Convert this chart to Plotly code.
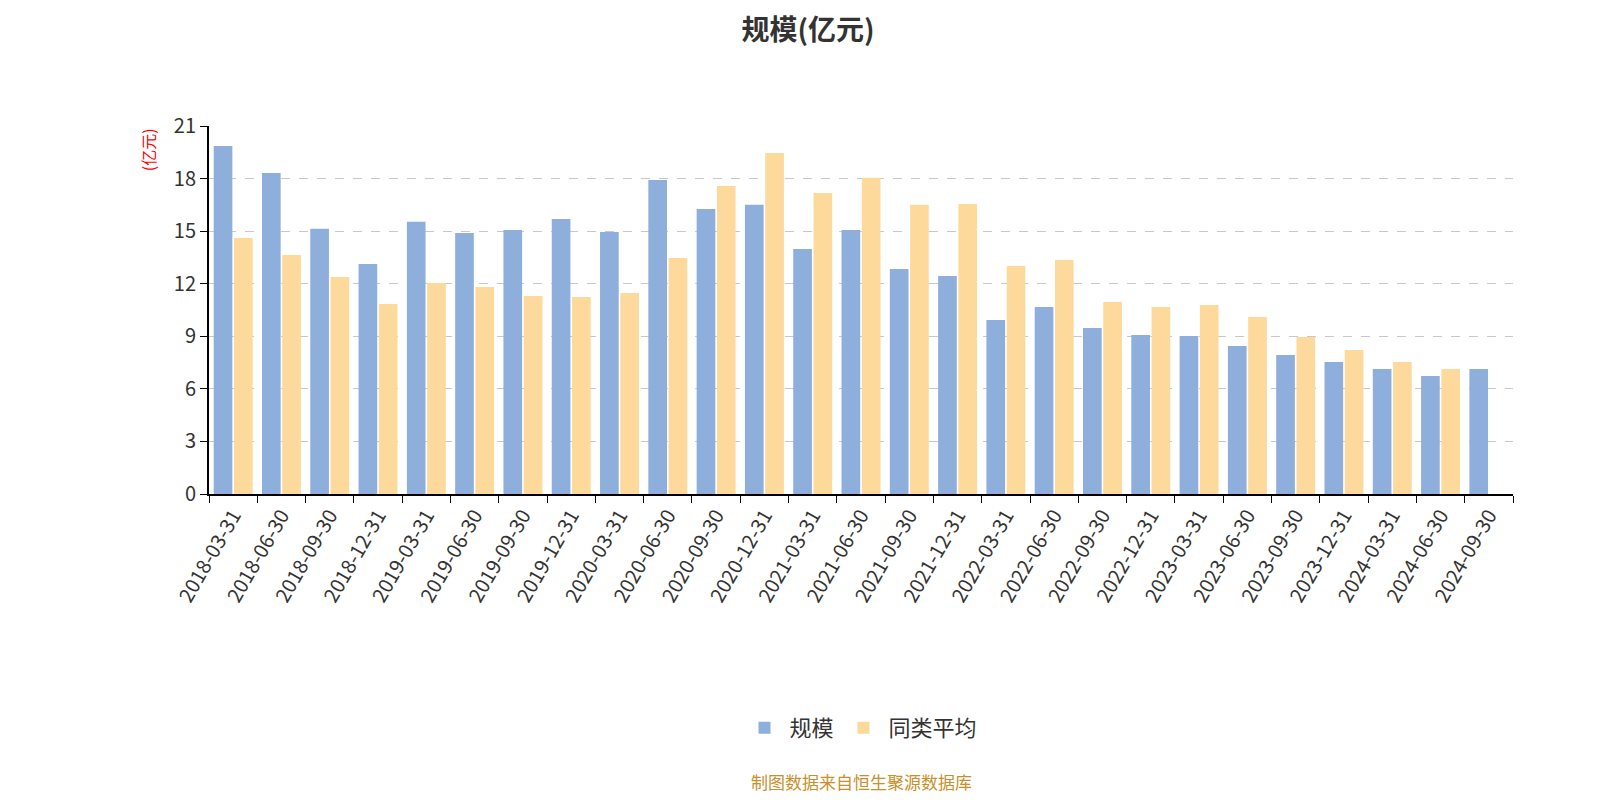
import plotly.graph_objects as go

dates = ["2018-03-31","2018-06-30","2018-09-30","2018-12-31","2019-03-31","2019-06-30","2019-09-30","2019-12-31",
         "2020-03-31","2020-06-30","2020-09-30","2020-12-31","2021-03-31","2021-06-30","2021-09-30","2021-12-31",
         "2022-03-31","2022-06-30","2022-09-30","2022-12-31","2023-03-31","2023-06-30","2023-09-30","2023-12-31",
         "2024-03-31","2024-06-30","2024-09-30"]
scale = [19.86,18.32,15.13,13.13,15.53,14.90,15.07,15.70,14.95,17.92,16.27,16.50,13.98,15.07,12.84,12.44,
         9.93,10.67,9.47,9.08,9.02,8.45,7.93,7.53,7.13,6.73,7.13]
peer_avg = [14.61,13.64,12.39,10.84,12.04,11.81,11.30,11.24,11.47,13.47,17.58,19.46,17.18,18.04,16.50,16.55,
            13.01,13.36,10.96,10.67,10.79,10.10,8.96,8.22,7.53,7.13,None]

font = "Noto Sans CJK SC"
fig = go.Figure()
fig.add_bar(x=dates, y=scale, name="规模", marker=dict(color="#8eaedb", line=dict(width=0)))
fig.add_bar(x=dates, y=peer_avg, name="同类平均", marker=dict(color="#fdd99b", line=dict(width=0)))

fig.update_layout(
    width=1600, height=800, plot_bgcolor="white", paper_bgcolor="white",
    font=dict(family=font, color="#333333"),
    margin=dict(l=201, r=95, t=118, b=314, autoexpand=False),
    barmode="group", bargap=0.16, bargroupgap=0.08,
    title=dict(text="<b>规模(亿元)</b>", x=0.5, xanchor="center", y=0.972, yanchor="middle",
               font=dict(size=28, color="#333333")),
    legend=dict(orientation="h", x=0.5, xanchor="center", y=(486 - 720) / 368, yanchor="middle",
                font=dict(size=22, color="#333333"), itemwidth=40),
    xaxis=dict(type="category", tickson="boundaries", ticks="outside", ticklen=7, tickcolor="#000",
               showline=True, linecolor="#000", linewidth=2, tickangle=-60, automargin=False,
               tickfont=dict(size=20, color="#333333"), showgrid=False),
    yaxis=dict(range=[0, 21], tickvals=list(range(0, 22, 3)), ticks="outside", ticklen=7, tickcolor="#000",
               showline=True, linecolor="#000", linewidth=2, showgrid=True, gridcolor="#c8c8c8",
               griddash="dash", gridwidth=1.3, zeroline=False, automargin=False,
               tickfont=dict(size=20, color="#333333")),
    annotations=[
        dict(text="(亿元)", textangle=-90, xref="paper", yref="paper", x=-0.047, y=1.0, xanchor="center",
             yanchor="top", showarrow=False, font=dict(size=16, color="red")),
        dict(text="制图数据来自恒生聚源数据库", xref="paper", yref="paper", x=0.5, y=(486 - 773) / 368,
             xanchor="center", yanchor="middle", showarrow=False, font=dict(size=17, color="#c8902a")),
    ],
)
fig.write_html("out.html")
